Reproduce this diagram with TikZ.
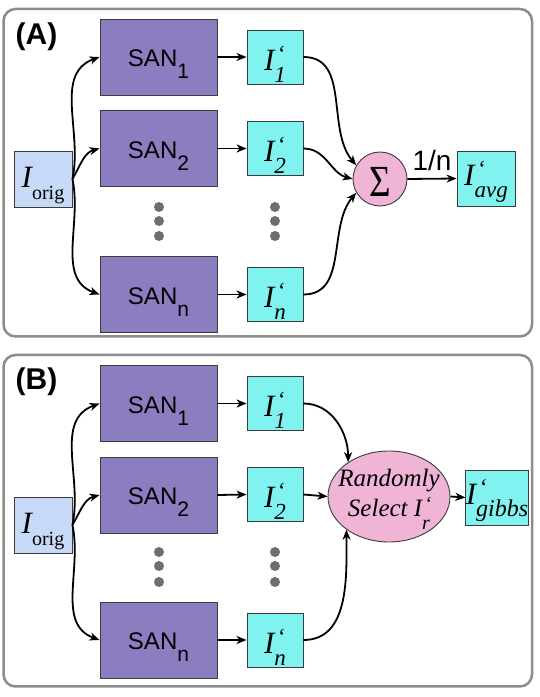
\documentclass[tikz,border=0pt]{standalone}
\usepackage{fontspec}
\setmainfont{Liberation Serif}[ItalicFont={Liberation Serif Italic}]
\newfontfamily\sansf{Liberation Sans}
\usetikzlibrary{arrows.meta,shapes.geometric}
\definecolor{sanfill}{RGB}{140,124,192}
\definecolor{icyan}{RGB}{128,242,240}
\definecolor{oblue}{RGB}{198,217,246}
\definecolor{pinkf}{RGB}{240,180,214}
\definecolor{framec}{RGB}{140,140,140}
\definecolor{dotc}{RGB}{110,110,110}
\definecolor{bordc}{RGB}{60,60,60}
% #1 main size, #2 small size, #3 subscript, #4 prime raise, #5 subscript lowering
\newcommand{\Ipr}[5]{{\fontsize{#1}{#1}\selectfont\itshape I\rlap{\kern2.5pt\raisebox{#4}{\fontsize{#2}{#2}\selectfont ‘}}\raisebox{-#5}{\fontsize{#2}{#2}\selectfont #3}}}
\newcommand{\Iorig}{{\fontsize{31}{31}\selectfont\itshape I}{\fontsize{20}{20}\selectfont\raisebox{-12pt}{orig}}}
\newcommand{\SANtxt}[1]{{\sansf\fontsize{24}{24}\selectfont SAN\raisebox{-12pt}{\fontsize{21}{21}\selectfont #1}}}
\tikzset{
  basebox/.style={draw=bordc, line width=0.9pt, inner sep=0pt, rectangle},
  sanbox/.style={basebox, fill=sanfill, minimum width=117pt, minimum height=76pt, text height=20pt, text depth=0pt},
  ibox/.style={basebox, fill=icyan, minimum width=56pt, minimum height=54pt, text height=27pt, text depth=0pt},
  obox/.style={basebox, fill=oblue, minimum width=58pt, minimum height=56pt, text height=18pt, text depth=0pt},
  conn/.style={-{Stealth[length=10pt,width=8pt,inset=3pt]}, line width=1.8pt},
  panel/.style={draw=framec, line width=2.5pt, rounded corners=12pt},
  plab/.style={font=\sansf\bfseries\fontsize{30}{30}\selectfont, inner sep=0pt},
  sumnode/.style={circle, draw=bordc, line width=0.9pt, fill=pinkf, minimum size=54pt, inner sep=0pt, text height=34.6pt, text depth=0pt},
  selnode/.style={ellipse, draw=bordc, line width=0.9pt, fill=pinkf, minimum width=122pt, minimum height=91pt, inner sep=0pt}
}
\begin{document}
\begin{tikzpicture}[x=1pt,y=1pt]
\useasboundingbox (0,0) rectangle (539,697);
\fill[white] (0,0) rectangle (539,697);
% ---------- Panel A ----------
\draw[panel] (3.5,360.5) rectangle (532,688);
\node[plab] (labA) at (36.5,660.5) {(A)};
\node[obox] (oA) at (43,518) {\Iorig};
\node[sanbox] (s1A) at (158.5,640) {\SANtxt{1}};
\node[sanbox] (s2A) at (158.5,548.5) {\SANtxt{2}};
\node[sanbox] (snA) at (158.5,402.5) {\SANtxt{n}};
\node[ibox] (i1A) at (275,640) {\Ipr{31}{23}{1}{9pt}{12pt}};
\node[ibox] (i2A) at (275,548.5) {\Ipr{31}{23}{2}{9pt}{12pt}};
\node[ibox] (inA) at (275,402.5) {\Ipr{31}{23}{n}{9pt}{12pt}};
\node[sumnode] (sig) at (380,518) {\scalebox{1}[1.2]{\fontsize{37}{37}\selectfont Σ}};
\node[ibox, minimum width=58pt, minimum height=55pt, text height=15pt] (avg) at (486,518.5) {\Ipr{31}{23}{avg}{9pt}{12pt}};
\foreach \yy in {490,476,461} {
  \fill[dotc] (159,\yy) circle (5pt);
  \fill[dotc] (275,\yy) circle (5pt);
}
\draw[conn] (oA.east) to[out=78,in=200] (s1A.west);
\draw[conn] (oA.east) to[out=60,in=195] (s2A.west);
\draw[conn] (oA.east) to[out=-78,in=160] (snA.west);
\draw[conn] (s1A.east) -- (i1A.west);
\draw[conn] (s2A.east) -- (i2A.west);
\draw[conn] (snA.east) -- (inA.west);
\draw[conn] (i1A.east) to[out=0,in=130] (sig.150);
\draw[conn] (i2A.east) to[out=0,in=165] (sig.west);
\draw[conn] (inA.east) to[out=0,in=230] (sig.210);
\draw[conn] (sig.east) -- node[midway, anchor=base, yshift=8pt, inner sep=0pt, font=\sansf\fontsize{28}{28}\selectfont] (frac) {1/n} (avg.west);
% ---------- Panel B ----------
\draw[panel] (3.5,10.5) rectangle (532,342);
\node[plab] (labB) at (36.5,315) {(B)};
\node[obox] (oB) at (43,172) {\Iorig};
\node[sanbox] (s1B) at (158.5,293.5) {\SANtxt{1}};
\node[sanbox] (s2B) at (158.5,202) {\SANtxt{2}};
\node[sanbox] (snB) at (158.5,57) {\SANtxt{n}};
\node[ibox] (i1B) at (275,293.5) {\Ipr{31}{23}{1}{9pt}{12pt}};
\node[ibox] (i2B) at (275,202.5) {\Ipr{31}{23}{2}{9pt}{12pt}};
\node[ibox] (inB) at (275,57) {\Ipr{31}{23}{n}{9pt}{12pt}};
\node[selnode] (sel) at (389,200.5) {\makebox[40pt][c]{\raisebox{0pt}[41pt][0pt]{\fontsize{25}{30}\selectfont\itshape\begin{tabular}[b]{@{}c@{}}Randomly\\Select \Ipr{25}{20}{r}{6pt}{13pt}\end{tabular}}}};
\node[ibox, minimum width=62pt, minimum height=55pt, text height=15pt] (gib) at (497,199.5) {\Ipr{31}{24}{gibbs}{9pt}{12pt}};
\foreach \yy in {145,131,115} {
  \fill[dotc] (159,\yy) circle (5pt);
  \fill[dotc] (275,\yy) circle (5pt);
}
\draw[conn] (oB.east) to[out=78,in=200] (s1B.west);
\draw[conn] (oB.east) to[out=60,in=195] (s2B.west);
\draw[conn] (oB.east) to[out=-78,in=160] (snB.west);
\draw[conn] (s1B.east) -- (i1B.west);
\draw[conn] (s2B.east) -- (i2B.west);
\draw[conn] (snB.east) -- (inB.west);
\draw[conn] (i1B.east) to[out=0,in=90] (sel.140);
\draw[conn] (i2B.east) -- (sel.west);
\draw[conn] (inB.east) to[out=0,in=-90] (sel.218);
\draw[conn] (sel.east) -- (gib.west);
\end{tikzpicture}
\end{document}
